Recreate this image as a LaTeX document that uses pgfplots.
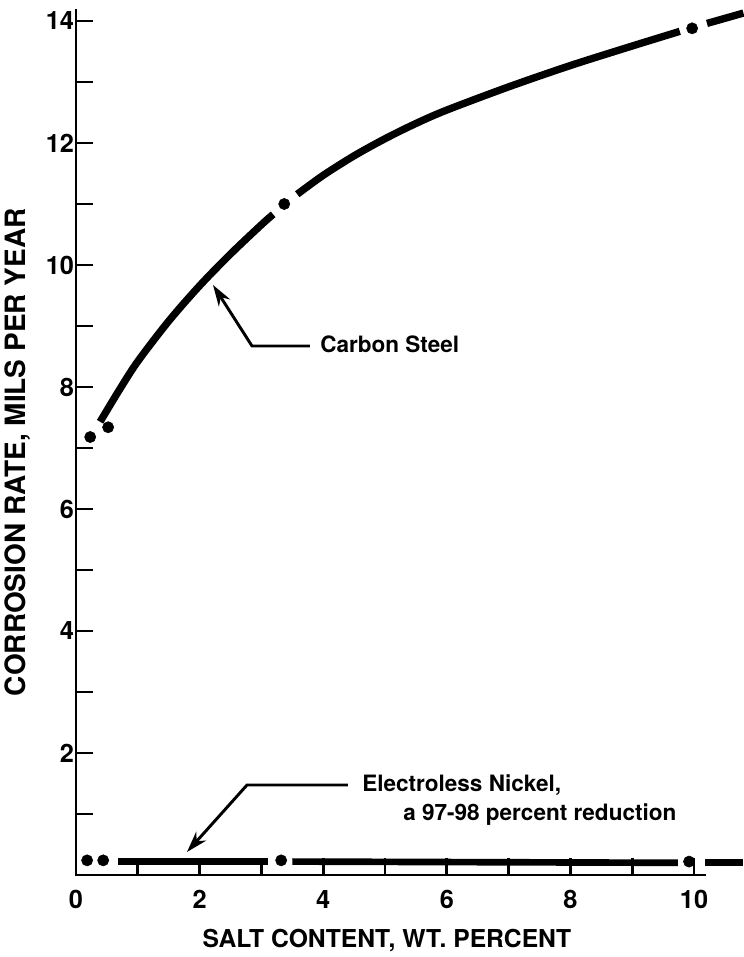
\documentclass[border=0pt]{standalone}
\usepackage{fontspec}
\setmainfont{TeX Gyre Heros}
\usepackage{pgfplots}
\pgfplotsset{compat=1.18}
\usetikzlibrary{arrows.meta}
\begin{document}
\begin{tikzpicture}
\useasboundingbox (-57pt,-61.5pt) rectangle (500.25pt,656.25pt);
\begin{axis}[
  at={(0,0)}, anchor=origin,
  x=46.35pt, y=45.75pt,
  xmin=0, xmax=10.8, ymin=0, ymax=14.34,
  axis x line=bottom, axis y line=left,
  axis line style={draw=none},
  clip=false,
  tick align=inside,
  xtick={0,2,4,6,8,10}, minor xtick={1,3,5,7,9},
  ytick={2,4,6,8,10,12,14}, minor ytick={1,3,5,7,9,11,13},
  major tick length=12.5pt, minor tick length=12.5pt,
  every tick/.style={black, line width=2pt},
  tick label style={font=\fontsize{19}{21}\selectfont\bfseries},
  xticklabel style={yshift=-8pt},
  yticklabel style={xshift=2pt},
  /pgf/number format/assume math mode=true,
]
% axis lines
\draw[line width=2.2pt] (axis cs:0,14.2) -- (axis cs:0,0) -- (axis cs:10.2,0);
% Carbon steel
\addplot[black, line width=5.5pt, smooth] coordinates {
 (0.39,7.43) (0.7,7.95) (1.0,8.42) (1.5,9.08) (2.0,9.66) (2.5,10.18) (3.0,10.66) (3.19,10.83)};
\addplot[black, line width=5.5pt, smooth] coordinates {
 (3.58,11.16) (4.0,11.47) (4.5,11.79) (5.0,12.07) (5.5,12.32) (6.0,12.54) (7.0,12.92) (8.0,13.27) (9.0,13.59) (9.77,13.83)};
\addplot[black, line width=5.5pt, smooth] coordinates {
 (10.21,13.96) (10.8,14.13)};
\addplot[only marks, mark=*, mark size=4.2pt, black] coordinates {
 (0.23,7.18) (0.52,7.34) (3.37,11.0) (9.97,13.88)};
% Electroless nickel
\addplot[black, line width=5pt] coordinates {(0.68,0.22) (3.10,0.22)};
\addplot[black, line width=5pt] coordinates {(3.50,0.22) (9.74,0.20)};
\addplot[black, line width=5pt] coordinates {(10.18,0.20) (10.8,0.20)};
\addplot[only marks, mark=*, mark size=4.2pt, black] coordinates {
 (0.18,0.24) (0.44,0.24) (3.32,0.24) (9.92,0.22)};
% annotations
\draw[line width=2.2pt, -{Stealth[length=16pt,width=10pt]}] (axis cs:3.786,8.672) -- (axis cs:2.848,8.672) -- (axis cs:2.217,9.672);
\node[anchor=west, font=\fontsize{16.9}{19}\selectfont\bfseries, inner sep=0pt] at (axis cs:3.948,8.70) {Carbon Steel};
\draw[line width=2.2pt, -{Stealth[length=16pt,width=10pt]}] (axis cs:4.40,1.475) -- (axis cs:2.767,1.475) -- (axis cs:1.796,0.377);
\node[anchor=west, font=\fontsize{16.9}{19}\selectfont\bfseries, inner sep=0pt] at (axis cs:4.628,1.475) {Electroless Nickel,};
\node[anchor=west, font=\fontsize{16.9}{19}\selectfont\bfseries, inner sep=0pt] at (axis cs:5.291,0.984) {a 97-98 percent reduction};
% axis labels
\node[font=\fontsize{18.5}{20}\selectfont\bfseries] at (axis cs:5.03,-1.07) {SALT CONTENT, WT. PERCENT};
\node[rotate=90, font=\fontsize{21}{23}\selectfont\bfseries] at (axis cs:-0.94,6.93) {CORROSION RATE, MILS PER YEAR};
\end{axis}
\end{tikzpicture}
\end{document}
